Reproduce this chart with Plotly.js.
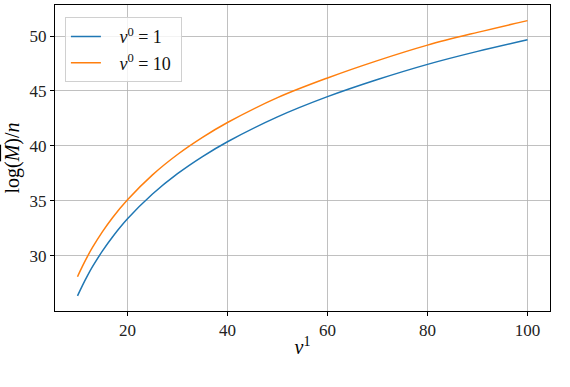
<!DOCTYPE html>
<html>
<head>
<meta charset="utf-8">
<script src="https://cdn.plot.ly/plotly-3.0.1.min.js"></script>
<style>html,body{margin:0;padding:0;background:#fff;}#chart{width:570px;height:387px;}</style>
</head>
<body>
<div id="chart"></div>
<script>
var nu1 = [10, 11, 12, 13, 15, 17, 20, 25, 30, 35, 40, 50, 60, 70, 80, 90, 100];
var series1 = [26.35, 27.31, 28.20, 29.01, 30.45, 31.72, 33.37, 35.62, 37.47, 39.03, 40.38, 42.64, 44.48, 46.04, 47.42, 48.60, 49.66];
var series10 = [28.10, 29.06, 29.95, 30.76, 32.20, 33.47, 35.10, 37.37, 39.22, 40.78, 42.13, 44.39, 46.18, 47.76, 49.17, 50.33, 51.40];
var name1 = '&nbsp;&nbsp;&nbsp;<i>ν</i><sup>0</sup> = 1';
var name10 = '&nbsp;&nbsp;&nbsp;<i>ν</i><sup>0</sup> = 10&nbsp;';
var xTicks = [20, 40, 60, 80, 100];
var yTicks = [30, 35, 40, 45, 50];

var fontFam = 'Liberation Serif, serif';
var traces = [
  {x: nu1, y: series1, name: name1, mode: 'lines', line: {color: '#1f77b4', width: 1.5, shape: 'spline', smoothing: 1}},
  {x: nu1, y: series10, name: name10, mode: 'lines', line: {color: '#ff7f0e', width: 1.5, shape: 'spline', smoothing: 1}}
];
var axisCommon = {
  showline: true, linecolor: '#000', linewidth: 1, mirror: true,
  showgrid: true, gridcolor: '#b0b0b0', gridwidth: 0.8,
  ticks: 'outside', ticklen: 4, tickcolor: '#000', tickwidth: 1,
  zeroline: false, tickfont: {family: fontFam, size: 17, color: '#222'}
};
var layout = {
  width: 570, height: 387,
  margin: {l: 55, r: 20, t: 5, b: 76},
  paper_bgcolor: '#fff', plot_bgcolor: '#fff',
  font: {family: fontFam, size: 17, color: '#000'},
  showlegend: true,
  legend: {x: 0.02, y: 0.96, xanchor: 'left', yanchor: 'top', bgcolor: 'rgba(255,255,255,0.8)',
           bordercolor: '#d0d0d0', borderwidth: 1, tracegroupgap: 0,
           font: {family: fontFam, size: 18, color: '#111'}},
  xaxis: Object.assign({}, axisCommon, {range: [5.5, 104.5], tickvals: xTicks,
          title: {text: '<i>ν</i><sup>1</sup>', font: {family: fontFam, size: 20}, standoff: 0}}),
  yaxis: Object.assign({}, axisCommon, {range: [24.98, 52.82], tickvals: yTicks,
          title: {text: 'log(<span style="text-decoration:overline"><i>M</i></span>)/<i>n</i>', font: {family: fontFam, size: 20}, standoff: 4}})
};
Plotly.newPlot('chart', traces, layout, {displayModeBar: false, staticPlot: true});
</script>
</body>
</html>
